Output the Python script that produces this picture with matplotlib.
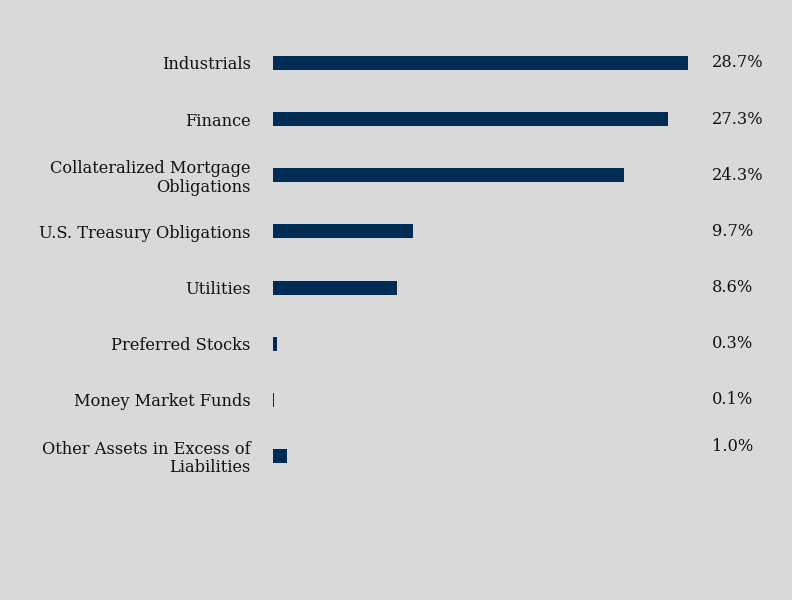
import numpy as np
import matplotlib.pyplot as plt

categories = ["Industrials", "Finance", "Collateralized Mortgage\nObligations",
              "U.S. Treasury Obligations", "Utilities", "Preferred Stocks",
              "Money Market Funds", "Other Assets in Excess of\nLiabilities"]
values = [28.7, 27.3, 24.3, 9.7, 8.6, 0.3, 0.1, 1.0]
value_labels = ["28.7%", "27.3%", "24.3%", "9.7%", "8.6%", "0.3%", "0.1%", "1.0%"]

bg = "#d9d9d9"
navy = "#002b55"
plt.rcParams['font.family'] = ['DejaVu Serif']

fig = plt.figure(figsize=(7.92, 6.0), dpi=100, facecolor=bg)
# axes in pixel units: x from 273 to ~707, rows 63..456
ax = fig.add_axes([273/792, 1 - 484.1/600, 433.8/792, (484.1 - 34.9)/600])
ax.set_facecolor(bg)

y = np.arange(len(categories))
ax.barh(y, values, height=0.25, color=navy)
ax.set_xlim(0, 30)
ax.set_ylim(len(categories) - 0.5, -0.5)
ax.set_yticks(y)
ax.set_yticklabels(categories, fontsize=11.7, color="#111111", linespacing=1.1,
                   ha="right")
ax.tick_params(axis='y', length=0, pad=16)
ax.set_xticks([])
for s in ax.spines.values():
    s.set_visible(False)

for i, lab in enumerate(value_labels):
    dy = 7 if i == len(categories) - 1 else 0
    ax.annotate(lab, xy=(1.0, i), xycoords=('axes fraction', 'data'),
                xytext=(4, dy), textcoords='offset points',
                ha='left', va='center', fontsize=11.7, color="#111111")

fig.savefig("out.png", dpi=100, facecolor=bg)
